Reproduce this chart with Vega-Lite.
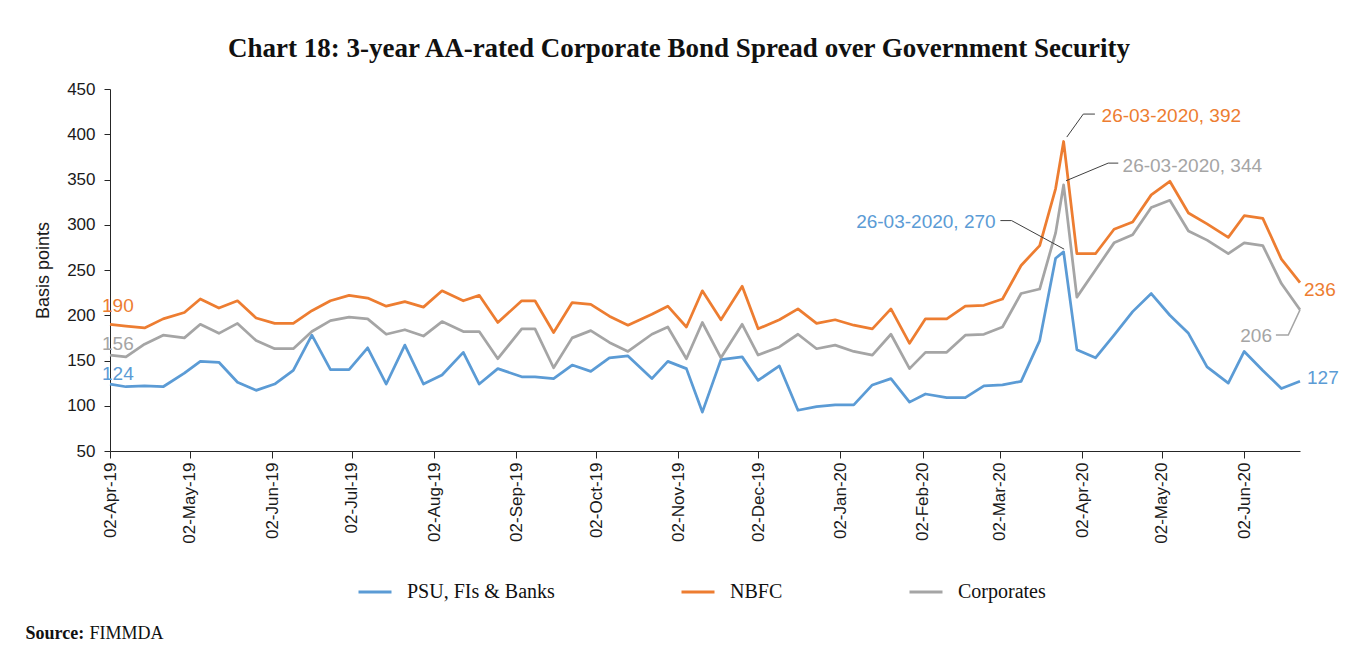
{
  "$schema": "https://vega.github.io/schema/vega-lite/v6.json",
  "width": 1190,
  "height": 362,
  "autosize": {"type": "none"},
  "padding": {"left": 110, "top": 89, "right": 49, "bottom": 204},
  "background": "white",
  "config": {"view": {"stroke": null}, "font": "Liberation Sans"},
  "title": {
    "text": "Chart 18: 3-year AA-rated Corporate Bond Spread over Government Security",
    "font": "Liberation Serif", "fontSize": 27, "fontWeight": "bold", "color": "#111111",
    "anchor": "middle", "frame": "group", "dx": -26, "offset": 17
  },
  "datasets": {
    "series": [
      {"d":"2019-04-02","s":"PSU, FIs & Banks","v":124},{"d":"2019-04-08","s":"PSU, FIs & Banks","v":121},{"d":"2019-04-15","s":"PSU, FIs & Banks","v":122},{"d":"2019-04-22","s":"PSU, FIs & Banks","v":121},{"d":"2019-04-30","s":"PSU, FIs & Banks","v":136},{"d":"2019-05-06","s":"PSU, FIs & Banks","v":149},{"d":"2019-05-13","s":"PSU, FIs & Banks","v":148},{"d":"2019-05-20","s":"PSU, FIs & Banks","v":126},{"d":"2019-05-27","s":"PSU, FIs & Banks","v":117},{"d":"2019-06-03","s":"PSU, FIs & Banks","v":124},
      {"d":"2019-06-10","s":"PSU, FIs & Banks","v":139},{"d":"2019-06-17","s":"PSU, FIs & Banks","v":178},{"d":"2019-06-24","s":"PSU, FIs & Banks","v":140},{"d":"2019-07-01","s":"PSU, FIs & Banks","v":140},{"d":"2019-07-08","s":"PSU, FIs & Banks","v":164},{"d":"2019-07-15","s":"PSU, FIs & Banks","v":124},{"d":"2019-07-22","s":"PSU, FIs & Banks","v":167},{"d":"2019-07-29","s":"PSU, FIs & Banks","v":124},{"d":"2019-08-05","s":"PSU, FIs & Banks","v":134},{"d":"2019-08-13","s":"PSU, FIs & Banks","v":159},
      {"d":"2019-08-19","s":"PSU, FIs & Banks","v":124},{"d":"2019-08-26","s":"PSU, FIs & Banks","v":141},{"d":"2019-09-04","s":"PSU, FIs & Banks","v":132},{"d":"2019-09-09","s":"PSU, FIs & Banks","v":132},{"d":"2019-09-16","s":"PSU, FIs & Banks","v":130},{"d":"2019-09-23","s":"PSU, FIs & Banks","v":145},{"d":"2019-09-30","s":"PSU, FIs & Banks","v":138},{"d":"2019-10-07","s":"PSU, FIs & Banks","v":153},{"d":"2019-10-14","s":"PSU, FIs & Banks","v":155},{"d":"2019-10-23","s":"PSU, FIs & Banks","v":130},
      {"d":"2019-10-29","s":"PSU, FIs & Banks","v":149},{"d":"2019-11-05","s":"PSU, FIs & Banks","v":141},{"d":"2019-11-11","s":"PSU, FIs & Banks","v":93},{"d":"2019-11-18","s":"PSU, FIs & Banks","v":151},{"d":"2019-11-26","s":"PSU, FIs & Banks","v":154},{"d":"2019-12-02","s":"PSU, FIs & Banks","v":128},{"d":"2019-12-10","s":"PSU, FIs & Banks","v":144},{"d":"2019-12-17","s":"PSU, FIs & Banks","v":95},{"d":"2019-12-24","s":"PSU, FIs & Banks","v":99},{"d":"2019-12-31","s":"PSU, FIs & Banks","v":101},
      {"d":"2020-01-07","s":"PSU, FIs & Banks","v":101},{"d":"2020-01-14","s":"PSU, FIs & Banks","v":123},{"d":"2020-01-21","s":"PSU, FIs & Banks","v":130},{"d":"2020-01-28","s":"PSU, FIs & Banks","v":104},{"d":"2020-02-03","s":"PSU, FIs & Banks","v":113},{"d":"2020-02-11","s":"PSU, FIs & Banks","v":109},{"d":"2020-02-18","s":"PSU, FIs & Banks","v":109},{"d":"2020-02-25","s":"PSU, FIs & Banks","v":122},{"d":"2020-03-03","s":"PSU, FIs & Banks","v":123},{"d":"2020-03-10","s":"PSU, FIs & Banks","v":127},
      {"d":"2020-03-17","s":"PSU, FIs & Banks","v":172},{"d":"2020-03-23","s":"PSU, FIs & Banks","v":263},{"d":"2020-03-26","s":"PSU, FIs & Banks","v":270},{"d":"2020-03-31","s":"PSU, FIs & Banks","v":162},{"d":"2020-04-07","s":"PSU, FIs & Banks","v":153},{"d":"2020-04-14","s":"PSU, FIs & Banks","v":178},{"d":"2020-04-21","s":"PSU, FIs & Banks","v":204},{"d":"2020-04-28","s":"PSU, FIs & Banks","v":224},{"d":"2020-05-05","s":"PSU, FIs & Banks","v":200},{"d":"2020-05-12","s":"PSU, FIs & Banks","v":180},
      {"d":"2020-05-19","s":"PSU, FIs & Banks","v":143},{"d":"2020-05-27","s":"PSU, FIs & Banks","v":125},{"d":"2020-06-02","s":"PSU, FIs & Banks","v":160},{"d":"2020-06-09","s":"PSU, FIs & Banks","v":139},{"d":"2020-06-16","s":"PSU, FIs & Banks","v":119},{"d":"2020-06-23","s":"PSU, FIs & Banks","v":127},

      {"d":"2019-04-02","s":"NBFC","v":190},{"d":"2019-04-08","s":"NBFC","v":188},{"d":"2019-04-15","s":"NBFC","v":186},{"d":"2019-04-22","s":"NBFC","v":196},{"d":"2019-04-30","s":"NBFC","v":203},{"d":"2019-05-06","s":"NBFC","v":218},{"d":"2019-05-13","s":"NBFC","v":208},{"d":"2019-05-20","s":"NBFC","v":216},{"d":"2019-05-27","s":"NBFC","v":197},{"d":"2019-06-03","s":"NBFC","v":191},
      {"d":"2019-06-10","s":"NBFC","v":191},{"d":"2019-06-17","s":"NBFC","v":205},{"d":"2019-06-24","s":"NBFC","v":216},{"d":"2019-07-01","s":"NBFC","v":222},{"d":"2019-07-08","s":"NBFC","v":219},{"d":"2019-07-15","s":"NBFC","v":210},{"d":"2019-07-22","s":"NBFC","v":215},{"d":"2019-07-29","s":"NBFC","v":209},{"d":"2019-08-05","s":"NBFC","v":227},{"d":"2019-08-13","s":"NBFC","v":216},
      {"d":"2019-08-19","s":"NBFC","v":222},{"d":"2019-08-26","s":"NBFC","v":192},{"d":"2019-09-04","s":"NBFC","v":216},{"d":"2019-09-09","s":"NBFC","v":216},{"d":"2019-09-16","s":"NBFC","v":181},{"d":"2019-09-23","s":"NBFC","v":214},{"d":"2019-09-30","s":"NBFC","v":212},{"d":"2019-10-07","s":"NBFC","v":199},{"d":"2019-10-14","s":"NBFC","v":189},{"d":"2019-10-23","s":"NBFC","v":201},
      {"d":"2019-10-29","s":"NBFC","v":210},{"d":"2019-11-05","s":"NBFC","v":187},{"d":"2019-11-11","s":"NBFC","v":227},{"d":"2019-11-18","s":"NBFC","v":195},{"d":"2019-11-26","s":"NBFC","v":232},{"d":"2019-12-02","s":"NBFC","v":185},{"d":"2019-12-10","s":"NBFC","v":195},{"d":"2019-12-17","s":"NBFC","v":207},{"d":"2019-12-24","s":"NBFC","v":191},{"d":"2019-12-31","s":"NBFC","v":195},
      {"d":"2020-01-07","s":"NBFC","v":189},{"d":"2020-01-14","s":"NBFC","v":185},{"d":"2020-01-21","s":"NBFC","v":207},{"d":"2020-01-28","s":"NBFC","v":169},{"d":"2020-02-03","s":"NBFC","v":196},{"d":"2020-02-11","s":"NBFC","v":196},{"d":"2020-02-18","s":"NBFC","v":210},{"d":"2020-02-25","s":"NBFC","v":211},{"d":"2020-03-03","s":"NBFC","v":218},{"d":"2020-03-10","s":"NBFC","v":255},
      {"d":"2020-03-17","s":"NBFC","v":277},{"d":"2020-03-23","s":"NBFC","v":340},{"d":"2020-03-26","s":"NBFC","v":392},{"d":"2020-03-31","s":"NBFC","v":268},{"d":"2020-04-07","s":"NBFC","v":268},{"d":"2020-04-14","s":"NBFC","v":295},{"d":"2020-04-21","s":"NBFC","v":303},{"d":"2020-04-28","s":"NBFC","v":333},{"d":"2020-05-05","s":"NBFC","v":348},{"d":"2020-05-12","s":"NBFC","v":313},
      {"d":"2020-05-19","s":"NBFC","v":301},{"d":"2020-05-27","s":"NBFC","v":286},{"d":"2020-06-02","s":"NBFC","v":310},{"d":"2020-06-09","s":"NBFC","v":307},{"d":"2020-06-16","s":"NBFC","v":262},{"d":"2020-06-23","s":"NBFC","v":236},

      {"d":"2019-04-02","s":"Corporates","v":156},{"d":"2019-04-08","s":"Corporates","v":154},{"d":"2019-04-15","s":"Corporates","v":168},{"d":"2019-04-22","s":"Corporates","v":178},{"d":"2019-04-30","s":"Corporates","v":175},{"d":"2019-05-06","s":"Corporates","v":190},{"d":"2019-05-13","s":"Corporates","v":180},{"d":"2019-05-20","s":"Corporates","v":191},{"d":"2019-05-27","s":"Corporates","v":172},{"d":"2019-06-03","s":"Corporates","v":163},
      {"d":"2019-06-10","s":"Corporates","v":163},{"d":"2019-06-17","s":"Corporates","v":182},{"d":"2019-06-24","s":"Corporates","v":194},{"d":"2019-07-01","s":"Corporates","v":198},{"d":"2019-07-08","s":"Corporates","v":196},{"d":"2019-07-15","s":"Corporates","v":179},{"d":"2019-07-22","s":"Corporates","v":184},{"d":"2019-07-29","s":"Corporates","v":177},{"d":"2019-08-05","s":"Corporates","v":193},{"d":"2019-08-13","s":"Corporates","v":182},
      {"d":"2019-08-19","s":"Corporates","v":182},{"d":"2019-08-26","s":"Corporates","v":152},{"d":"2019-09-04","s":"Corporates","v":185},{"d":"2019-09-09","s":"Corporates","v":185},{"d":"2019-09-16","s":"Corporates","v":142},{"d":"2019-09-23","s":"Corporates","v":175},{"d":"2019-09-30","s":"Corporates","v":183},{"d":"2019-10-07","s":"Corporates","v":170},{"d":"2019-10-14","s":"Corporates","v":160},{"d":"2019-10-23","s":"Corporates","v":179},
      {"d":"2019-10-29","s":"Corporates","v":187},{"d":"2019-11-05","s":"Corporates","v":152},{"d":"2019-11-11","s":"Corporates","v":192},{"d":"2019-11-18","s":"Corporates","v":153},{"d":"2019-11-26","s":"Corporates","v":190},{"d":"2019-12-02","s":"Corporates","v":156},{"d":"2019-12-10","s":"Corporates","v":165},{"d":"2019-12-17","s":"Corporates","v":179},{"d":"2019-12-24","s":"Corporates","v":163},{"d":"2019-12-31","s":"Corporates","v":167},
      {"d":"2020-01-07","s":"Corporates","v":160},{"d":"2020-01-14","s":"Corporates","v":156},{"d":"2020-01-21","s":"Corporates","v":179},{"d":"2020-01-28","s":"Corporates","v":141},{"d":"2020-02-03","s":"Corporates","v":159},{"d":"2020-02-11","s":"Corporates","v":159},{"d":"2020-02-18","s":"Corporates","v":178},{"d":"2020-02-25","s":"Corporates","v":179},{"d":"2020-03-03","s":"Corporates","v":187},{"d":"2020-03-10","s":"Corporates","v":224},
      {"d":"2020-03-17","s":"Corporates","v":229},{"d":"2020-03-23","s":"Corporates","v":291},{"d":"2020-03-26","s":"Corporates","v":344},{"d":"2020-03-31","s":"Corporates","v":220},{"d":"2020-04-07","s":"Corporates","v":250},{"d":"2020-04-14","s":"Corporates","v":280},{"d":"2020-04-21","s":"Corporates","v":289},{"d":"2020-04-28","s":"Corporates","v":319},{"d":"2020-05-05","s":"Corporates","v":327},{"d":"2020-05-12","s":"Corporates","v":293},
      {"d":"2020-05-19","s":"Corporates","v":283},{"d":"2020-05-27","s":"Corporates","v":268},{"d":"2020-06-02","s":"Corporates","v":280},{"d":"2020-06-09","s":"Corporates","v":277},{"d":"2020-06-16","s":"Corporates","v":235},{"d":"2020-06-23","s":"Corporates","v":206}
    ],
    "labels": [
      {"k":"s_nbfc","d":"2019-04-02","s":"NBFC","v":190,"t":"190"},
      {"k":"s_corp","d":"2019-04-02","s":"Corporates","v":156,"t":"156"},
      {"k":"s_psu","d":"2019-04-02","s":"PSU, FIs & Banks","v":124,"t":"124"},
      {"k":"p_nbfc","d":"2020-03-26","s":"NBFC","v":392,"t":"26-03-2020, 392"},
      {"k":"p_corp","d":"2020-03-26","s":"Corporates","v":344,"t":"26-03-2020, 344"},
      {"k":"p_psu","d":"2020-03-26","s":"PSU, FIs & Banks","v":270,"t":"26-03-2020, 270"},
      {"k":"e_nbfc","d":"2020-06-23","s":"NBFC","v":236,"t":"236"},
      {"k":"e_corp","d":"2020-06-23","s":"Corporates","v":206,"t":"206"},
      {"k":"e_psu","d":"2020-06-23","s":"PSU, FIs & Banks","v":127,"t":"127"}
    ],
    "leaders": [
      {"k":"nbfc","o":1,"d":"2020-03-27T05:00:00Z","v":396.9},
      {"k":"nbfc","o":2,"d":"2020-04-02T10:00:00Z","v":422.3},
      {"k":"nbfc","o":3,"d":"2020-04-06T19:00:00Z","v":422.3},
      {"k":"corp","o":1,"d":"2020-03-26T22:00:00Z","v":348.6},
      {"k":"corp","o":2,"d":"2020-04-11T19:00:00Z","v":368.1},
      {"k":"corp","o":3,"d":"2020-04-15T14:00:00Z","v":368.1},
      {"k":"psu","o":1,"d":"2020-03-02T05:00:00Z","v":304.6},
      {"k":"psu","o":2,"d":"2020-03-06T10:00:00Z","v":304.6},
      {"k":"psu","o":3,"d":"2020-03-26T05:00:00Z","v":273.0},
      {"k":"c206","o":1,"d":"2020-06-13T22:00:00Z","v":178.2},
      {"k":"c206","o":2,"d":"2020-06-18T14:00:00Z","v":178.2},
      {"k":"c206","o":3,"d":"2020-06-23T00:00:00Z","v":206}
    ]
  },
  "resolve": {"axis": {"x": "independent"}},
  "layer": [
    {
      "data": {"name": "series"},
      "mark": {"type": "line", "strokeWidth": 2.75, "strokeJoin": "round"},
      "encoding": {
        "x": {
          "field": "d", "type": "temporal",
          "scale": {"type": "utc", "domain": [{"year": 2019, "month": 4, "date": 2, "utc": true}, {"year": 2020, "month": 6, "date": 23, "utc": true}]},
          "axis": {
            "orient": "bottom",
            "values": [
              {"year": 2019, "month": 4, "date": 2, "utc": true},
              {"year": 2019, "month": 5, "date": 2, "utc": true},
              {"year": 2019, "month": 6, "date": 2, "utc": true},
              {"year": 2019, "month": 7, "date": 2, "utc": true},
              {"year": 2019, "month": 8, "date": 2, "utc": true},
              {"year": 2019, "month": 9, "date": 2, "utc": true},
              {"year": 2019, "month": 10, "date": 2, "utc": true},
              {"year": 2019, "month": 11, "date": 2, "utc": true},
              {"year": 2019, "month": 12, "date": 2, "utc": true},
              {"year": 2020, "month": 1, "date": 2, "utc": true},
              {"year": 2020, "month": 2, "date": 2, "utc": true},
              {"year": 2020, "month": 3, "date": 2, "utc": true},
              {"year": 2020, "month": 4, "date": 2, "utc": true},
              {"year": 2020, "month": 5, "date": 2, "utc": true},
              {"year": 2020, "month": 6, "date": 2, "utc": true}
            ],
            "format": "%d-%b-%y", "labelAngle": -90, "grid": false,
            "tickSize": 7, "tickColor": "#262626", "domainColor": "#262626",
            "labelPadding": 4, "labelFontSize": 17, "labelColor": "#1a1a1a", "labelFont": "Liberation Sans",
            "labelOverlap": false,
            "title": "Source:", "titleFont": "Liberation Serif", "titleFontWeight": "bold", "titleFontSize": 18,
            "titleColor": "#111111", "titleX": -85, "titleY": 182, "titleAlign": "left", "titleBaseline": "middle"
          }
        },
        "y": {
          "field": "v", "type": "quantitative",
          "scale": {"domain": [50, 450], "nice": false, "zero": false},
          "axis": {
            "values": [50, 100, 150, 200, 250, 300, 350, 400, 450],
            "title": "Basis points", "grid": false,
            "tickSize": 6, "tickColor": "#262626", "domainColor": "#262626",
            "labelPadding": 9, "labelFontSize": 17, "labelColor": "#1a1a1a", "labelFont": "Liberation Sans",
            "titleFont": "Liberation Sans", "titleFontSize": 18, "titleFontWeight": "normal", "titleColor": "#1a1a1a",
            "titlePadding": 14
          }
        },
        "color": {
          "field": "s", "type": "nominal",
          "scale": {"domain": ["PSU, FIs & Banks", "NBFC", "Corporates"], "range": ["#5B9BD5", "#ED7D31", "#A5A5A5"]},
          "legend": {
            "orient": "none", "legendX": 247, "legendY": 485, "direction": "horizontal", "title": null,
            "symbolType": "stroke", "symbolSize": 1089, "symbolStrokeWidth": 3,
            "labelFont": "Liberation Serif", "labelFontSize": 20, "labelColor": "#111111",
            "labelOffset": 14, "columnPadding": 120, "padding": 0, "labelLimit": 400
          }
        }
      }
    },
    {
      "data": {"name": "leaders"},
      "transform": [{"filter": "datum.k != 'c206'"}],
      "mark": {"type": "line", "stroke": "#404040", "strokeWidth": 1},
      "encoding": {
        "x": {"field": "d", "type": "temporal", "scale": {"type": "utc"}, "axis": null},
        "y": {"field": "v", "type": "quantitative"},
        "detail": {"field": "k"},
        "order": {"field": "o"}
      }
    },
    {
      "data": {"name": "leaders"},
      "transform": [{"filter": "datum.k == 'c206'"}],
      "mark": {"type": "line", "stroke": "#A5A5A5", "strokeWidth": 1.5},
      "encoding": {
        "x": {"field": "d", "type": "temporal", "scale": {"type": "utc"}, "axis": null},
        "y": {"field": "v", "type": "quantitative"},
        "order": {"field": "o"}
      }
    },
    {
      "data": {"name": "labels"},
      "transform": [{"filter": "datum.k == 's_nbfc'"}],
      "mark": {"type": "text", "align": "left", "baseline": "middle", "dx": -8, "dy": -18, "fontSize": 19, "font": "Liberation Sans"},
      "encoding": {
        "x": {"field": "d", "type": "temporal", "scale": {"type": "utc"},
          "axis": {"orient": "top", "domain": false, "ticks": false, "labels": false, "grid": false,
            "title": "FIMMDA", "titleFont": "Liberation Serif", "titleFontWeight": "normal", "titleFontSize": 18,
            "titleColor": "#111111", "titleX": -21, "titleY": 544, "titleAlign": "left", "titleBaseline": "middle"}},
        "y": {"field": "v", "type": "quantitative"},
        "text": {"field": "t"},
        "color": {"field": "s", "type": "nominal", "legend": null}
      }
    },
    {
      "data": {"name": "labels"},
      "transform": [{"filter": "datum.k == 's_corp'"}],
      "mark": {"type": "text", "align": "left", "baseline": "middle", "dx": -8, "dy": -11, "fontSize": 19, "font": "Liberation Sans"},
      "encoding": {
        "x": {"field": "d", "type": "temporal", "scale": {"type": "utc"}, "axis": null},
        "y": {"field": "v", "type": "quantitative"},
        "text": {"field": "t"},
        "color": {"field": "s", "type": "nominal", "legend": null}
      }
    },
    {
      "data": {"name": "labels"},
      "transform": [{"filter": "datum.k == 's_psu'"}],
      "mark": {"type": "text", "align": "left", "baseline": "middle", "dx": -8, "dy": -10, "fontSize": 19, "font": "Liberation Sans"},
      "encoding": {
        "x": {"field": "d", "type": "temporal", "scale": {"type": "utc"}, "axis": null},
        "y": {"field": "v", "type": "quantitative"},
        "text": {"field": "t"},
        "color": {"field": "s", "type": "nominal", "legend": null}
      }
    },
    {
      "data": {"name": "labels"},
      "transform": [{"filter": "datum.k == 'p_nbfc'"}],
      "mark": {"type": "text", "align": "left", "baseline": "middle", "dx": 38, "dy": -25, "fontSize": 19, "font": "Liberation Sans"},
      "encoding": {
        "x": {"field": "d", "type": "temporal", "scale": {"type": "utc"}, "axis": null},
        "y": {"field": "v", "type": "quantitative"},
        "text": {"field": "t"},
        "color": {"field": "s", "type": "nominal", "legend": null}
      }
    },
    {
      "data": {"name": "labels"},
      "transform": [{"filter": "datum.k == 'p_corp'"}],
      "mark": {"type": "text", "align": "left", "baseline": "middle", "dx": 59, "dy": -19, "fontSize": 19, "font": "Liberation Sans"},
      "encoding": {
        "x": {"field": "d", "type": "temporal", "scale": {"type": "utc"}, "axis": null},
        "y": {"field": "v", "type": "quantitative"},
        "text": {"field": "t"},
        "color": {"field": "s", "type": "nominal", "legend": null}
      }
    },
    {
      "data": {"name": "labels"},
      "transform": [{"filter": "datum.k == 'p_psu'"}],
      "mark": {"type": "text", "align": "right", "baseline": "middle", "dx": -68, "dy": -30, "fontSize": 19, "font": "Liberation Sans"},
      "encoding": {
        "x": {"field": "d", "type": "temporal", "scale": {"type": "utc"}, "axis": null},
        "y": {"field": "v", "type": "quantitative"},
        "text": {"field": "t"},
        "color": {"field": "s", "type": "nominal", "legend": null}
      }
    },
    {
      "data": {"name": "labels"},
      "transform": [{"filter": "datum.k == 'e_nbfc'"}],
      "mark": {"type": "text", "align": "left", "baseline": "middle", "dx": 4, "dy": 7, "fontSize": 19, "font": "Liberation Sans"},
      "encoding": {
        "x": {"field": "d", "type": "temporal", "scale": {"type": "utc"}, "axis": null},
        "y": {"field": "v", "type": "quantitative"},
        "text": {"field": "t"},
        "color": {"field": "s", "type": "nominal", "legend": null}
      }
    },
    {
      "data": {"name": "labels"},
      "transform": [{"filter": "datum.k == 'e_corp'"}],
      "mark": {"type": "text", "align": "right", "baseline": "middle", "dx": -28, "dy": 26, "fontSize": 19, "font": "Liberation Sans"},
      "encoding": {
        "x": {"field": "d", "type": "temporal", "scale": {"type": "utc"}, "axis": null},
        "y": {"field": "v", "type": "quantitative"},
        "text": {"field": "t"},
        "color": {"field": "s", "type": "nominal", "legend": null}
      }
    },
    {
      "data": {"name": "labels"},
      "transform": [{"filter": "datum.k == 'e_psu'"}],
      "mark": {"type": "text", "align": "left", "baseline": "middle", "dx": 7, "dy": -3, "fontSize": 19, "font": "Liberation Sans"},
      "encoding": {
        "x": {"field": "d", "type": "temporal", "scale": {"type": "utc"}, "axis": null},
        "y": {"field": "v", "type": "quantitative"},
        "text": {"field": "t"},
        "color": {"field": "s", "type": "nominal", "legend": null}
      }
    }
  ]
}
